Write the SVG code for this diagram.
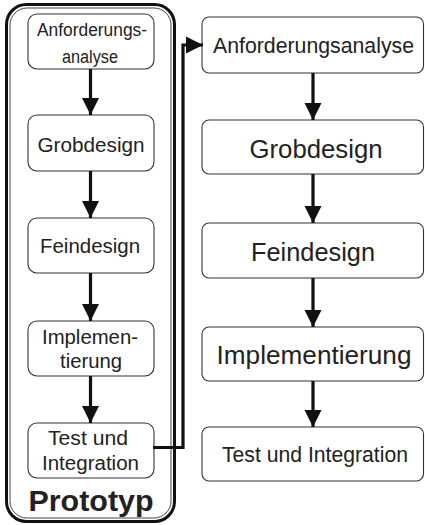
<svg xmlns="http://www.w3.org/2000/svg" width="425" height="525" viewBox="0 0 425 525">
<defs>
<marker id="ah" markerUnits="userSpaceOnUse" markerWidth="17" markerHeight="17" refX="17" refY="8.5" orient="auto" overflow="visible">
<path d="M0,0 L17,8.5 L0,17 z" fill="#111"/>
</marker>
<style>
.box{fill:#fff;stroke:#333;stroke-width:1.1}
.t{font-family:"Liberation Sans",Arial,sans-serif;fill:#222;text-anchor:middle}
.c{fill:none;stroke:#111;stroke-width:3.2;marker-end:url(#ah)}
</style>
</defs>
<rect width="425" height="525" fill="#fff"/>
<g id="prototyp">
<rect x="6.5" y="4.5" width="168" height="517" rx="20" fill="none" stroke="#111" stroke-width="3"/>
<rect x="10" y="8" width="161" height="510" rx="17" fill="none" stroke="#444" stroke-width="1"/>
<text class="t" x="91" y="511" font-size="30" font-weight="bold" textLength="125" lengthAdjust="spacingAndGlyphs">Prototyp</text>
</g>
<g id="p1">
<rect class="box" x="28" y="14" width="126" height="55" rx="9"/>
<text class="t" x="92" y="36" font-size="18" textLength="110" lengthAdjust="spacingAndGlyphs">Anforderungs-</text>
<text class="t" x="90" y="63" font-size="18" textLength="56" lengthAdjust="spacingAndGlyphs">analyse</text>
</g>
<g id="p2">
<rect class="box" x="28" y="115" width="126" height="56" rx="9"/>
<text class="t" x="91" y="152" font-size="20.5" textLength="107" lengthAdjust="spacingAndGlyphs">Grobdesign</text>
</g>
<g id="p3">
<rect class="box" x="28" y="218" width="126" height="55" rx="9"/>
<text class="t" x="90" y="253" font-size="20" textLength="100" lengthAdjust="spacingAndGlyphs">Feindesign</text>
</g>
<g id="p4">
<rect class="box" x="28" y="321" width="126" height="55" rx="9"/>
<text class="t" x="90" y="344" font-size="19.5" textLength="96" lengthAdjust="spacingAndGlyphs">Implemen-</text>
<text class="t" x="91" y="368" font-size="19.5" textLength="62" lengthAdjust="spacingAndGlyphs">tierung</text>
</g>
<g id="p5">
<rect class="box" x="28" y="423" width="126" height="55" rx="9"/>
<text class="t" x="88" y="445" font-size="19.5" textLength="80" lengthAdjust="spacingAndGlyphs">Test und</text>
<text class="t" x="90.5" y="470" font-size="19.5" textLength="97" lengthAdjust="spacingAndGlyphs">Integration</text>
</g>
<g id="r1">
<rect class="box" x="202" y="17" width="221.5" height="56" rx="7"/>
<text class="t" x="313.5" y="53" font-size="22.5" textLength="201" lengthAdjust="spacingAndGlyphs">Anforderungsanalyse</text>
</g>
<g id="r2">
<rect class="box" x="202" y="120" width="221.5" height="54" rx="7"/>
<text class="t" x="316" y="158" font-size="25" textLength="133" lengthAdjust="spacingAndGlyphs">Grobdesign</text>
</g>
<g id="r3">
<rect class="box" x="202" y="223" width="221.5" height="55" rx="7"/>
<text class="t" x="313" y="261" font-size="25" textLength="124" lengthAdjust="spacingAndGlyphs">Feindesign</text>
</g>
<g id="r4">
<rect class="box" x="202" y="327" width="221.5" height="54" rx="7"/>
<text class="t" x="314" y="364" font-size="25" textLength="195" lengthAdjust="spacingAndGlyphs">Implementierung</text>
</g>
<g id="r5">
<rect class="box" x="202" y="427" width="221.5" height="54" rx="7"/>
<text class="t" x="315" y="462" font-size="22.5" textLength="186" lengthAdjust="spacingAndGlyphs">Test und Integration</text>
</g>
<g id="connectors">
<path class="c" d="M90.5,69 V115"/>
<path class="c" d="M90.5,171 V218"/>
<path class="c" d="M90.5,273 V321"/>
<path class="c" d="M90.5,376 V423"/>
<path class="c" d="M313,73 V120"/>
<path class="c" d="M313,174 V223"/>
<path class="c" d="M313,278 V327"/>
<path class="c" d="M313,381 V427"/>
<path class="c" d="M153,447.5 H183 V45 H203"/>
</g>
</svg>
